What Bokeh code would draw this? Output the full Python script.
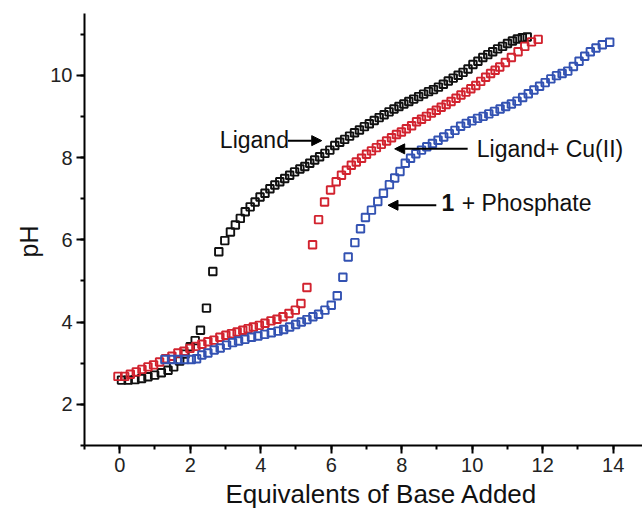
import math
from bokeh.plotting import figure
from bokeh.models import Range1d, SingleIntervalTicker, Label, Arrow, NormalHead, ColumnDataSource, Title
from bokeh.embed import file_html
from bokeh.resources import INLINE

# ---- data ----
ligand_x = [0.05, 0.24, 0.43, 0.62, 0.80, 0.99, 1.18, 1.37, 1.53, 1.70, 1.85, 2.00, 2.14, 2.29,
            2.46, 2.64, 2.81, 2.98, 3.14, 3.28, 3.42, 3.56, 3.70, 3.84, 3.98, 4.12, 4.26, 4.40,
            4.54, 4.68, 4.82, 4.96, 5.11, 5.25, 5.39, 5.53, 5.67, 5.82, 5.96, 6.10, 6.24, 6.38,
            6.52, 6.66, 6.80, 6.94, 7.08, 7.22, 7.36, 7.50, 7.64, 7.78, 7.92, 8.06, 8.20, 8.34,
            8.48, 8.62, 8.76, 8.90, 9.04, 9.18, 9.32, 9.46, 9.60, 9.74, 9.88, 10.02, 10.16, 10.30,
            10.44, 10.58, 10.72, 10.86, 11.00, 11.14, 11.28, 11.42, 11.56]
ligand_y = [2.59, 2.59, 2.60, 2.63, 2.67, 2.71, 2.77, 2.83, 2.91, 3.05, 3.22, 3.40, 3.55, 3.80,
            4.34, 5.23, 5.71, 5.98, 6.19, 6.36, 6.52, 6.68, 6.80, 6.92, 7.04, 7.13, 7.24, 7.33,
            7.41, 7.49, 7.57, 7.65, 7.72, 7.78, 7.86, 7.94, 8.02, 8.10, 8.18, 8.29, 8.37, 8.44,
            8.52, 8.60, 8.67, 8.75, 8.82, 8.90, 8.97, 9.04, 9.11, 9.18, 9.24, 9.30, 9.36, 9.42,
            9.48, 9.54, 9.60, 9.65, 9.71, 9.78, 9.86, 9.93, 10.00, 10.07, 10.15, 10.26, 10.34, 10.43,
            10.50, 10.57, 10.64, 10.70, 10.77, 10.83, 10.88, 10.91, 10.93]

cu_x = [-0.05, 0.14, 0.30, 0.47, 0.63, 0.80, 0.96, 1.13, 1.30, 1.48, 1.65, 1.82, 1.99, 2.16,
        2.33, 2.50, 2.67, 2.84, 3.01, 3.17, 3.33, 3.49, 3.64, 3.79, 3.96, 4.12, 4.29, 4.46,
        4.63, 4.80, 4.98, 5.14, 5.31, 5.47, 5.64, 5.81, 5.98, 6.14, 6.29, 6.43, 6.57, 6.71,
        6.86, 7.00, 7.14, 7.28, 7.42, 7.57, 7.71, 7.85, 7.99, 8.13, 8.28, 8.42, 8.56, 8.70,
        8.84, 8.98, 9.12, 9.26, 9.40, 9.54, 9.68, 9.82, 9.96, 10.10, 10.24, 10.38, 10.52, 10.65,
        10.78, 10.94, 11.11, 11.30, 11.49, 11.68, 11.87]
cu_y = [2.68, 2.68, 2.73, 2.79, 2.85, 2.91, 2.96, 3.03, 3.11, 3.17, 3.25, 3.29, 3.36, 3.41,
        3.46, 3.52, 3.56, 3.63, 3.68, 3.72, 3.76, 3.80, 3.84, 3.88, 3.92, 3.97, 4.03, 4.07,
        4.13, 4.21, 4.29, 4.45, 4.84, 5.88, 6.49, 6.92, 7.21, 7.41, 7.57, 7.69, 7.81, 7.89,
        7.98, 8.08, 8.16, 8.24, 8.32, 8.40, 8.48, 8.56, 8.62, 8.70, 8.77, 8.87, 8.93, 9.00,
        9.08, 9.15, 9.22, 9.29, 9.36, 9.44, 9.52, 9.59, 9.67, 9.75, 9.85, 9.95, 10.04, 10.12,
        10.20, 10.31, 10.43, 10.57, 10.70, 10.81, 10.87]

phos_x = [1.28, 1.47, 1.65, 1.84, 2.03, 2.18, 2.33, 2.50, 2.68, 2.85, 3.03, 3.20, 3.37, 3.55,
          3.74, 3.92, 4.11, 4.30, 4.49, 4.65, 4.82, 4.99, 5.15, 5.31, 5.48, 5.64, 5.82, 6.00,
          6.17, 6.33, 6.48, 6.67, 6.83, 6.97, 7.14, 7.32, 7.48, 7.65, 7.80, 7.95, 8.10, 8.25,
          8.40, 8.56, 8.71, 8.87, 9.03, 9.19, 9.35, 9.51, 9.67, 9.83, 9.99, 10.15, 10.31, 10.47,
          10.63, 10.79, 10.95, 11.11, 11.27, 11.43, 11.59, 11.75, 11.91, 12.07, 12.23, 12.39, 12.55,
          12.71, 12.87, 13.03, 13.19, 13.35, 13.51, 13.69, 13.90]
phos_y = [3.09, 3.09, 3.09, 3.09, 3.09, 3.11, 3.20, 3.25, 3.32, 3.37, 3.44, 3.50, 3.54, 3.58,
          3.63, 3.66, 3.70, 3.74, 3.78, 3.82, 3.88, 3.94, 4.00, 4.06, 4.13, 4.19, 4.29, 4.41,
          4.64, 5.09, 5.58, 5.93, 6.27, 6.54, 6.72, 6.93, 7.13, 7.34, 7.50, 7.66, 7.86, 7.98,
          8.09, 8.18, 8.26, 8.34, 8.42, 8.50, 8.58, 8.66, 8.76, 8.83, 8.89, 8.95, 9.00, 9.06,
          9.12, 9.18, 9.24, 9.30, 9.37, 9.46, 9.55, 9.64, 9.73, 9.82, 9.91, 9.99, 10.04,
          10.10, 10.21, 10.34, 10.46, 10.57, 10.66, 10.74, 10.80]

x_title = "Equivalents of Base Added"
y_title = "pH"

FONT = "Liberation Sans"

p = figure(width=642, height=510, output_backend="svg", toolbar_location=None,
           x_range=Range1d(-1.0, 14.83), y_range=Range1d(1.0, 11.5),
           min_border_left=84, min_border_right=0, min_border_top=13, min_border_bottom=65)
p.outline_line_color = None
p.grid.visible = False
p.background_fill_color = "white"
p.border_fill_color = "white"

for ax in (p.xaxis[0], p.yaxis[0]):
    ax.ticker = SingleIntervalTicker(interval=2, num_minor_ticks=2)
    ax.axis_line_width = 2
    ax.axis_line_color = "black"
    ax.major_tick_line_width = 2
    ax.minor_tick_line_width = 2
    ax.major_tick_line_color = "black"
    ax.minor_tick_line_color = "black"
    ax.major_tick_in = 0
    ax.major_tick_out = 8
    ax.minor_tick_in = 0
    ax.minor_tick_out = 4
    ax.major_label_text_font = FONT
    ax.major_label_text_font_size = "20px"
    ax.major_label_text_color = "#222222"
    ax.major_label_standoff = 4

src_l = ColumnDataSource(dict(x=ligand_x, y=ligand_y))
src_c = ColumnDataSource(dict(x=cu_x, y=cu_y))
src_p = ColumnDataSource(dict(x=phos_x, y=phos_y))

p.scatter("x", "y", source=src_l, marker="square", size=7.5, fill_color=None,
          line_color="#111111", line_width=1.9)
p.scatter("x", "y", source=src_c, marker="square", size=7.5, fill_color=None,
          line_color="#d2232f", line_width=1.9)
p.scatter("x", "y", source=src_p, marker="square", size=7.5, fill_color=None,
          line_color="#3352b2", line_width=1.9)

# annotations
def lab(x, y, text, size="23px", style="normal", **kw):
    p.add_layout(Label(x=x, y=y, text=text, text_font=FONT, text_font_size=size,
                       text_font_style=style, text_color="#111111", **kw))

lab(2.84, 8.42, "Ligand", text_baseline="middle", text_align="left")
lab(10.13, 8.20, "Ligand+ Cu(II)", text_baseline="middle", text_align="left")
lab(9.13, 6.90, "1", style="bold", text_baseline="middle", text_align="left")
lab(9.70, 6.90, "+ Phosphate", text_baseline="middle", text_align="left")

for xs, xe, yy in ((4.77, 5.73, 8.41), (9.87, 7.80, 8.21), (8.98, 7.61, 6.84)):
    p.add_layout(Arrow(x_start=xs, y_start=yy, x_end=xe, y_end=yy, line_width=2,
                       line_color="black",
                       end=NormalHead(size=10, fill_color="black", line_color="black")))

# axis titles
p.add_layout(Title(text=x_title, align="left", offset=141, text_font=FONT,
                   text_font_size="26px", text_font_style="normal", text_color="#111111",
                   standoff=4), "below")
p.add_layout(Title(text=y_title, align="left", offset=188, text_font=FONT,
                   text_font_size="25px", text_font_style="normal", text_color="#111111"),
             "left")

open("out.html", "w").write(file_html(p, INLINE))
